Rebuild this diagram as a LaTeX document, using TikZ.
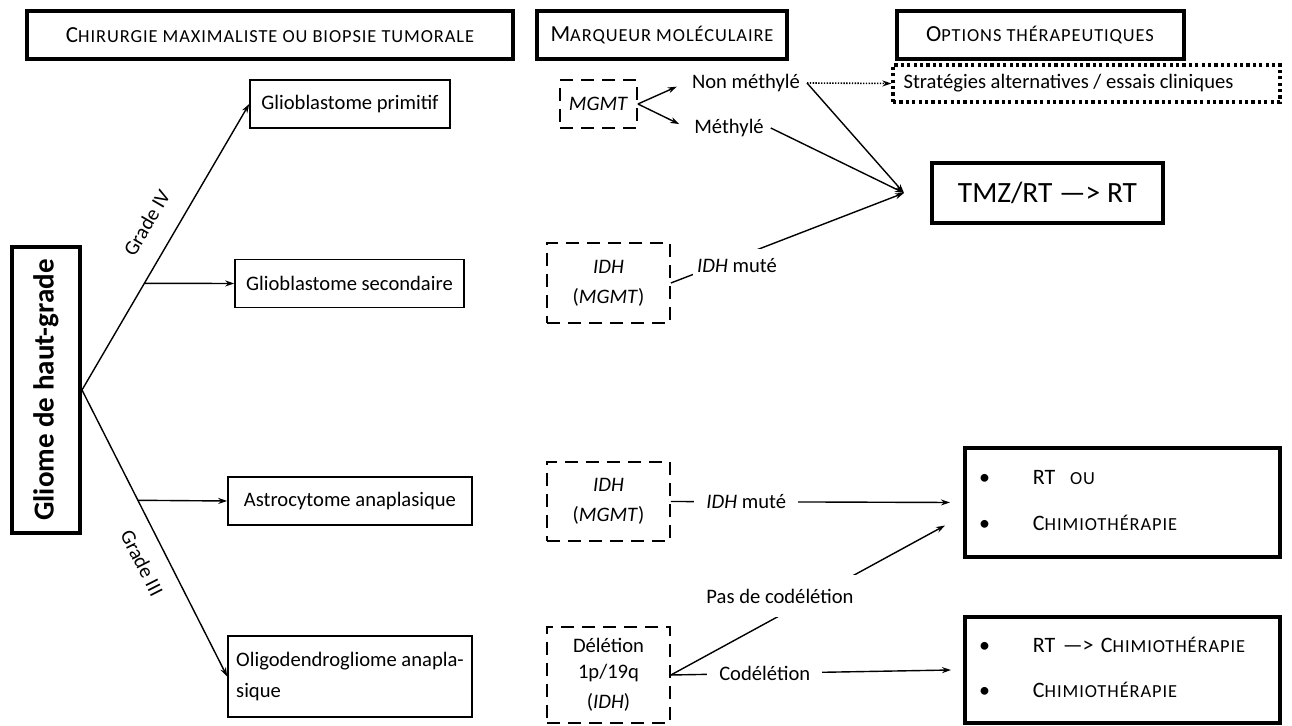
\documentclass[tikz,border=0pt]{standalone}
\usepackage{fontspec}
\setmainfont{Carlito}
\usetikzlibrary{arrows.meta}
\newcommand{\petitcap}[1]{{\fontsize{9.2pt}{11pt}\selectfont\addfontfeature{LetterSpace=5}#1}}

\begin{document}
\begin{tikzpicture}[x=0.5pt, y=-0.5pt, font=\fontsize{10.3pt}{12pt}\selectfont,
  >={Stealth[length=4.5pt, width=3pt]},
  headbox/.style={draw, line width=2pt, minimum height=24pt, inner sep=0pt, font=\fontsize{11.5pt}{13pt}\selectfont},
  tumbox/.style={draw, line width=0.8pt, minimum height=24pt, inner sep=0pt},
  markbox/.style={draw, line width=0.9pt, dash pattern=on 6.5pt off 4pt, align=center, minimum width=61.5pt, inner sep=0pt},
  optbox/.style={draw, line width=2pt, inner sep=0pt},
  lbl/.style={fill=white, inner xsep=2pt},
  link/.style={->, line width=0.7pt}]
\useasboundingbox (0,0) rectangle (1292,726);
% en-tetes
\node[headbox, minimum width=243pt] (hdA) at (270,35) {C\petitcap{HIRURGIE MAXIMALISTE OU BIOPSIE TUMORALE}};
\node[headbox, minimum width=125pt] (hdB) at (662,35) {M\petitcap{ARQUEUR MOLÉCULAIRE}};
\node[headbox, minimum width=143.5pt] (hdC) at (1040,35) {O\petitcap{PTIONS THÉRAPEUTIQUES}};
% tumeurs
\node[draw, line width=2pt, rotate=90, minimum width=143pt, minimum height=34pt, inner sep=0pt, font=\fontsize{14.5pt}{17pt}\selectfont\bfseries] (GL) at (46,390) {Gliome de haut-grade};
\node[tumbox, minimum width=100pt] (GP) at (350,104) {Glioblastome primitif};
\node[tumbox, minimum width=114.5pt] (GS) at (349.5,283.5) {Glioblastome secondaire};
\node[tumbox, minimum width=122pt] (AA) at (350,501) {Astrocytome anaplasique};
\node[tumbox, minimum width=122pt, minimum height=40.5pt, align=left] (OA) at (350,676.5) {Oligodendrogliome anapla-\\[3.5pt]sique};
\draw[link] (GL.south) -- coordinate[pos=0.373] (B4) node[pos=0.535, above=7pt, sloped] {Grade IV} (GP.west);
\draw[link] (B4) -- (GS.west);
\draw[link] (GL.south) -- coordinate[pos=0.385] (B3) node[pos=0.565, below=5pt, sloped] {Grade III} (OA.west);
\draw[link] (B3) -- (AA.west);
% marqueurs
\node[markbox, minimum width=38.5pt, minimum height=24pt] (MG) at (598.5,104) {\textit{MGMT}};
\node[markbox, minimum height=40pt] (IA) at (608.5,283) {\textit{IDH}\\[3pt](\textit{MGMT})};
\node[markbox, minimum height=39.5pt] (IB) at (608.5,501.5) {\textit{IDH}\\[3pt](\textit{MGMT})};
\node[markbox, minimum height=48pt] (DL) at (608.5,675) {Délétion\\[1pt]1p/19q\\[3pt](\textit{IDH})};
\node (NM) at (746,83) {Non méthylé};
\node (ME) at (729,128) {Méthylé};
% options
\node[draw, line width=1.6pt, dash pattern=on 1.6pt off 1.6pt, minimum width=193.5pt, minimum height=18.5pt, inner sep=0pt] (ST) at (1086.5,83.5) {Stratégies alternatives / essais cliniques\hspace*{18pt}};
\node[optbox, minimum width=115.5pt, minimum height=30pt, font=\fontsize{14.7pt}{17pt}\selectfont] (TM) at (1047.5,193) {TMZ/RT —> RT};
\node[optbox, minimum height=54.5pt, inner xsep=7pt, text width=143.5pt, align=left, font=\fontsize{11pt}{13pt}\selectfont] (RO) at (1122.5,502.5) {\begin{tabular}{@{}p{27pt}@{}l@{}}\textbullet & RT\ \ \petitcap{OU}\\[10pt] \textbullet & C\petitcap{HIMIOTHÉRAPIE}\end{tabular}};
\node[optbox, minimum height=53pt, inner xsep=7pt, text width=143.5pt, align=left, font=\fontsize{11pt}{13pt}\selectfont] (RC) at (1122.5,670) {\begin{tabular}{@{}p{27pt}@{}l@{}}\textbullet & RT —> C\petitcap{HIMIOTHÉRAPIE}\\[9.5pt] \textbullet & C\petitcap{HIMIOTHÉRAPIE}\end{tabular}};
\coordinate (TMin) at ([xshift=-13pt]TM.west);
\coordinate (ROa) at ([xshift=-6.5pt]RO.west);
\coordinate (ROb) at ([xshift=-9pt, yshift=-11.5pt]RO.west);
\coordinate (RCa) at ([xshift=-6pt]RC.west);
% liens
\draw[link, shorten >=4.5pt] (MG.east) -- (NM.west);
\draw[link, shorten >=4.5pt] (MG.east) -- (ME.west);
\draw[->, line width=0.8pt, dash pattern=on 0.7pt off 0.7pt] (NM.east) -- (ST.west);
\draw[link] (NM.east) -- (TMin);
\draw[link] (ME.east) -- (TMin);
\draw[link] (IA.east) -- (TMin);
\node[lbl, inner ysep=5pt] (IM1) at (737,266) {\textit{IDH} muté};
\draw[link] (IB.east) -- node[lbl, pos=0.27, inner xsep=6pt] (IM2) {\textit{IDH} muté} (ROa);
\draw[link] (DL.east) -- (ROb);
\node[lbl, inner ysep=7pt] (PC) at (780,596) {Pas de codélétion};
\draw[link] (DL.east) -- node[lbl, pos=0.335, inner xsep=6pt] (CD) {Codélétion} (RCa);
\end{tikzpicture}
\end{document}
